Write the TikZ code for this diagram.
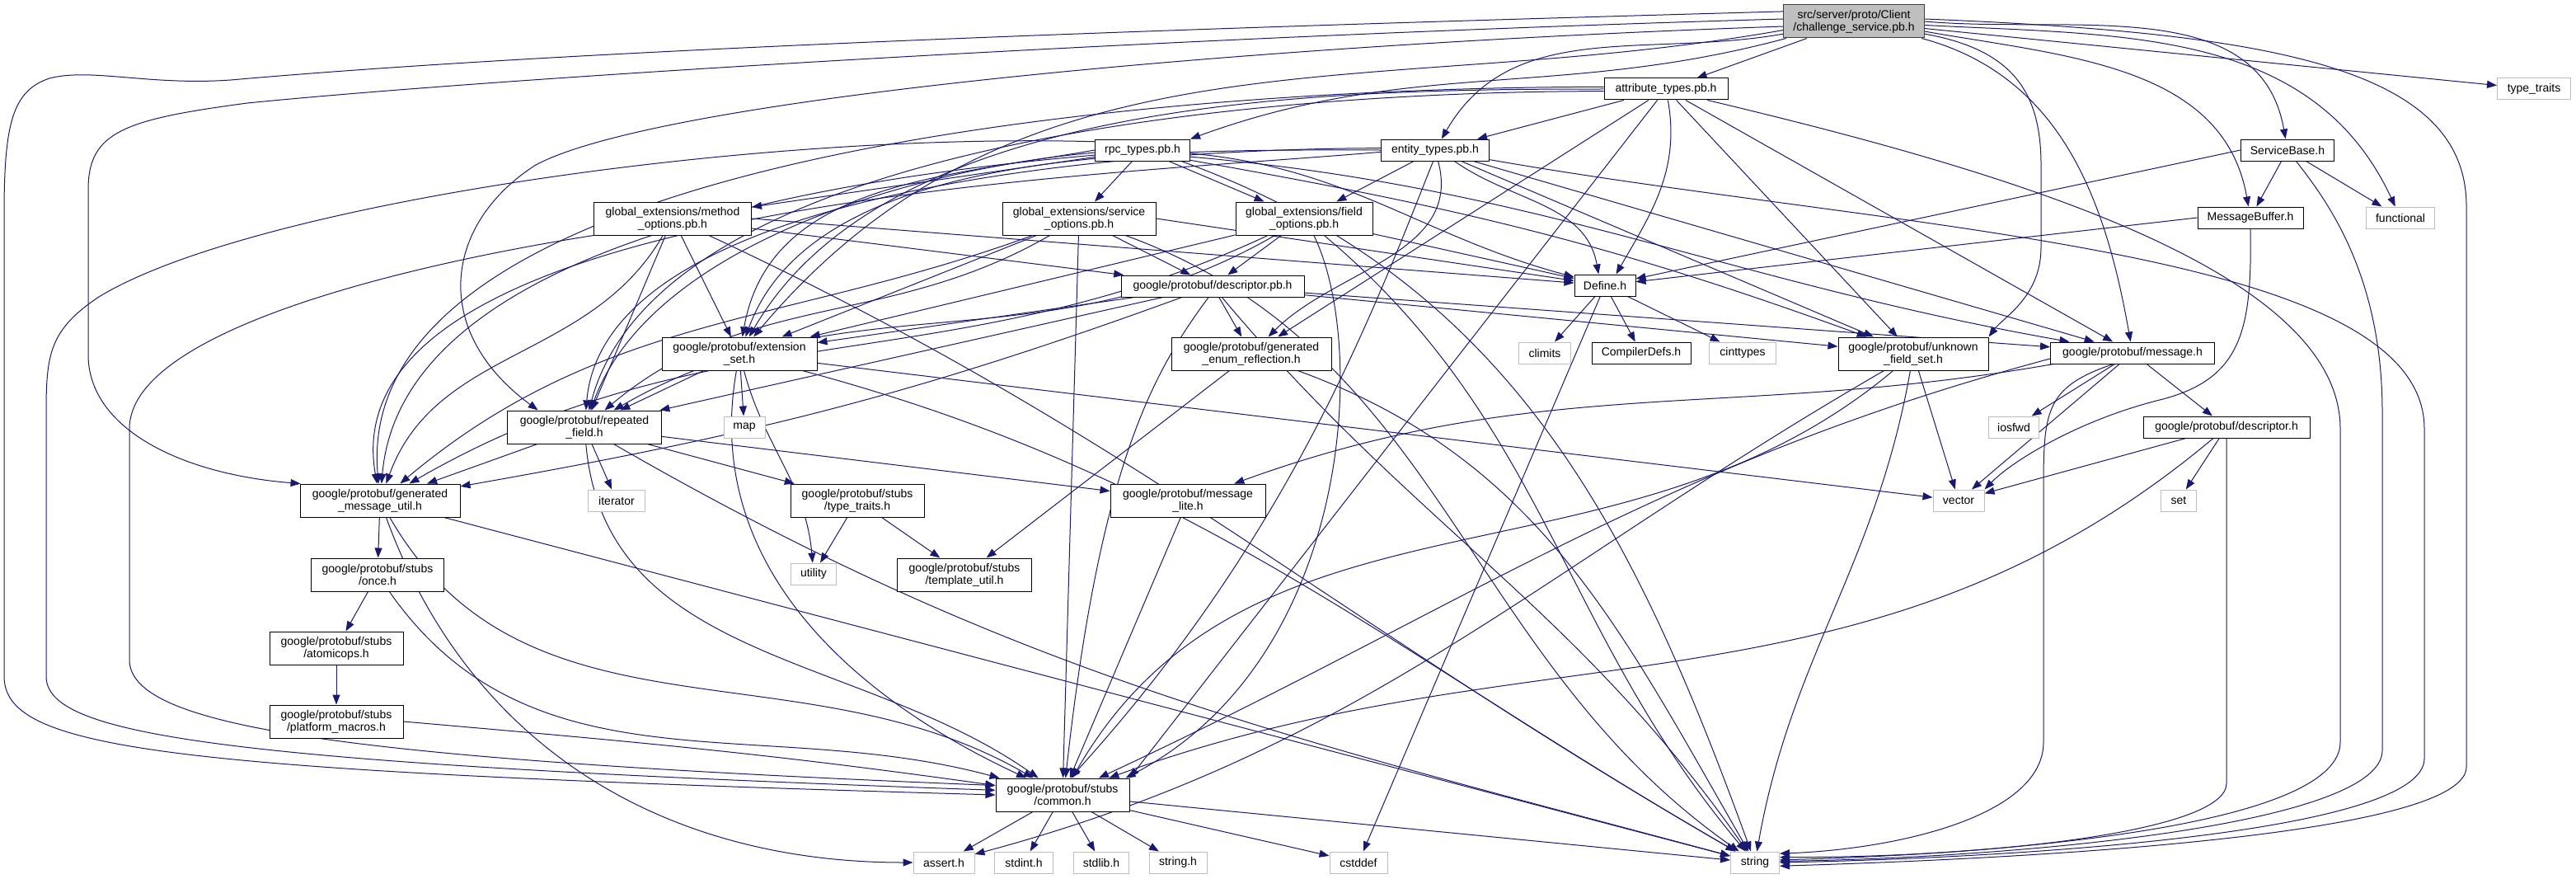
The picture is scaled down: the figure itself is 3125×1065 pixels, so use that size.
\documentclass[tikz,border=0pt]{standalone}
\usepackage{fontspec}
\setmainfont{Liberation Sans}
\usetikzlibrary{arrows.meta}
\pgfdeclarelayer{background}
\pgfsetlayers{background,main}
\definecolor{edgeblue}{HTML}{191970}
\definecolor{sysgray}{HTML}{BFBFBF}
\tikzset{
  hdr/.style={draw=black, line width=0.5pt, fill=white, align=center,
    font=\fontsize{7}{7.5}\selectfont, inner sep=1pt, minimum height=13pt},
  two/.style={minimum height=20pt},
  sys/.style={hdr, draw=sysgray},
  wd/.style={minimum width=#1*0.5pt},
  dep/.style={draw=edgeblue, line width=0.5pt, -{Triangle[length=6pt,width=4.5pt]}},
}
\begin{document}
\begin{tikzpicture}[x=0.5pt, y=-0.5pt]
  \useasboundingbox (0,0) rectangle (3125,1065);
  % headers
  \node[hdr, wd=171, two, fill=sysgray, draw=black!75] (root) at (2249,26) {src/server/proto/Client\\/challenge\_service.pb.h};
  \node[hdr, wd=150] (attr) at (2021,108) {attribute\_types.pb.h};
  \node[hdr, wd=131] (entity) at (1741,182) {entity\_types.pb.h};
  \node[hdr, wd=115] (rpc) at (1386,182) {rpc\_types.pb.h};
  \node[hdr, wd=191, two] (methopt) at (816,265) {global\_extensions/method\\\_options.pb.h};
  \node[hdr, wd=186, two] (servopt) at (1309,265) {global\_extensions/service\\\_options.pb.h};
  \node[hdr, wd=166, two] (fieldopt) at (1582,265) {global\_extensions/field\\\_options.pb.h};
  \node[hdr, wd=222] (descpb) at (1471,347) {google/protobuf/descriptor.pb.h};
  \node[hdr, wd=74] (define) at (1947,346) {Define.h};
  \node[hdr, wd=113] (svcbase) at (2775,182) {ServiceBase.h};
  \node[hdr, wd=128] (msgbuf) at (2730,264) {MessageBuffer.h};
  \node[sys, wd=83] (functional) at (2912,264) {functional};
  \node[sys, wd=89] (typetraits) at (3074,108) {type\_traits};
  \node[hdr, wd=188, two] (extset) at (897,429) {google/protobuf/extension\\\_set.h};
  \node[sys, wd=50] (map) at (903,518) {map};
  \node[hdr, wd=194, two] (genenum) at (1518,429) {google/protobuf/generated\\\_enum\_reflection.h};
  \node[sys, wd=63] (climits) at (1874,428) {climits};
  \node[hdr, wd=120] (compdefs) at (1991,428) {CompilerDefs.h};
  \node[sys, wd=81] (cinttypes) at (2114,428) {cinttypes};
  \node[hdr, wd=182, two] (unkfield) at (2321,429) {google/protobuf/unknown\\\_field\_set.h};
  \node[hdr, wd=199] (message) at (2587,428) {google/protobuf/message.h};
  \node[sys, wd=61] (iosfwd) at (2443,518) {iosfwd};
  \node[hdr, wd=202] (descr) at (2701,518) {google/protobuf/descriptor.h};
  \node[sys, wd=43] (set) at (2643,607) {set};
  \node[sys, wd=62] (vector) at (2376,607) {vector};
  \node[hdr, wd=194, two] (genmsg) at (461,607) {google/protobuf/generated\\\_message\_util.h};
  \node[hdr, wd=187, two] (repfield) at (709,518) {google/protobuf/repeated\\\_field.h};
  \node[sys, wd=69] (iterator) at (748,607) {iterator};
  \node[hdr, wd=162, two] (stubtraits) at (1040,607) {google/protobuf/stubs\\/type\_traits.h};
  \node[sys, wd=55] (utility) at (987,696) {utility};
  \node[hdr, wd=163, two] (tplutil) at (1170,697) {google/protobuf/stubs\\/template\_util.h};
  \node[hdr, wd=188, two] (msglite) at (1441,607) {google/protobuf/message\\\_lite.h};
  \node[hdr, wd=161, two] (once) at (458,697) {google/protobuf/stubs\\/once.h};
  \node[hdr, wd=162, two] (atomic) at (408,786) {google/protobuf/stubs\\/atomicops.h};
  \node[hdr, wd=162, two] (platform) at (408,875) {google/protobuf/stubs\\/platform\_macros.h};
  \node[hdr, wd=162, two] (common) at (1289,964) {google/protobuf/stubs\\/common.h};
  \node[sys, wd=74] (asserth) at (1145,1046) {assert.h};
  \node[sys, wd=71] (stdint) at (1242,1046) {stdint.h};
  \node[sys, wd=67] (stdlib) at (1336,1046) {stdlib.h};
  \node[sys, wd=70] (stringh) at (1429,1046) {string.h};
  \node[sys, wd=70] (cstddef) at (1648,1046) {cstddef};
  \node[sys, wd=59] (string) at (2129,1046) {string};

  \begin{pgfonlayer}{background}
  \fill[white] (0,0) rectangle (3125,1065);
  % root
  \draw[dep] (root) -- (attr);
  \draw[dep] (root.190) to[out=190,in=60] (entity);
  \draw[dep] (root.194) to[out=195,in=20] (rpc.north east);
  \draw[dep] (root.east) to[out=-5,in=100] (svcbase);
  \draw[dep] (root.-8) to[out=-10,in=100] (msgbuf);
  \draw[dep] (root.-3) to[out=-3,in=115] (functional);
  \draw[dep] (root) -- (typetraits);
  \draw[dep] (root.-14) to[out=-15,in=100] (message);
  \draw[dep] (root.-10) .. controls (2440,60) and (2476,110) .. (2476,200) -- (2476,300) .. controls (2476,360) and (2430,385) .. (unkfield.north east);
  \draw[dep] (root.2) .. controls (2750,40) and (2992,80) .. (2992,250) -- (2992,930) .. controls (2992,1010) and (2500,1040) .. (string.-8);
  \draw[dep] (root.172) .. controls (1400,35) and (700,60) .. (280,97) .. controls (180,104) and (110,82) .. (60,95) .. controls (15,110) and (5,150) .. (5,260) -- (5,820) .. controls (5,910) and (200,935) .. (common.180);
  \draw[dep] (root.178) .. controls (1400,45) and (600,95) .. (300,125) .. controls (150,145) and (107,160) .. (107,230) -- (107,430) .. controls (107,520) and (220,575) .. (genmsg.168);
  \draw[dep] (root.184) .. controls (1500,55) and (800,120) .. (650,200) .. controls (540,270) and (520,400) .. (repfield.160);
  \draw[dep] (root.187) to[out=190,in=50] (extset);
  % attribute_types.pb.h
  \draw[dep] (attr) -- (entity);
  \draw[dep] (attr.-80) to[out=-80,in=60] (define.45);
  \draw[dep] (attr) -- (message);
  \draw[dep] (attr) -- (unkfield);
  \draw[dep] (attr) -- (common.north east);
  \draw[dep] (attr) -- (genenum);
  \draw[dep] (attr.-15) .. controls (2400,200) and (2839,320) .. (2839,520) -- (2839,900) .. controls (2839,1000) and (2450,1035) .. (string.6);
  \draw[dep] (attr.west) to[out=180,in=60,looseness=0.8] (extset);
  \draw[dep] (attr.182) to[out=180,in=75,looseness=0.7] (repfield);
  \draw[dep] (attr.178) to[out=180,in=95,looseness=0.7] (genmsg);
  % entity_types.pb.h
  \draw[dep] (entity) -- (fieldopt);
  \draw[dep] (entity.-30) to[out=-35,in=100] (define.120);
  \draw[dep] (entity.-100) .. controls (1665,380) and (1565,650) .. (common.65);
  \draw[dep] (entity) -- (message);
  \draw[dep] (entity) -- (unkfield);
  \draw[dep] (entity) to[out=-75,in=45] (genenum);
  \draw[dep] (entity.-10) .. controls (2300,280) and (2941,300) .. (2941,520) -- (2941,920) .. controls (2941,1010) and (2450,1040) .. (string.0);
  \draw[dep] (entity.west) to[out=180,in=70,looseness=0.8] (extset);
  \draw[dep] (entity.178) to[out=180,in=85,looseness=0.7] (repfield);
  \draw[dep] (entity.182) to[out=185,in=100,looseness=0.7] (genmsg);
  % rpc_types.pb.h
  \draw[dep] (rpc) -- (methopt);
  \draw[dep] (rpc) -- (servopt);
  \draw[dep] (rpc) -- (fieldopt);
  \draw[dep] (rpc.-4) to[out=-5,in=165] (define);
  \draw[dep] (rpc.-8) to[out=-5,in=170] (message);
  \draw[dep] (rpc.-12) to[out=-10,in=160] (unkfield);
  \draw[dep] (rpc.-16) to[out=-20,in=110] (string);
  \draw[dep] (rpc.west) to[out=190,in=80] (extset);
  \draw[dep] (rpc.183) to[out=185,in=70,looseness=0.8] (repfield);
  \draw[dep] (rpc.186) to[out=185,in=85,looseness=0.8] (genmsg);
  \draw[dep] (rpc.170) .. controls (900,160) and (300,250) .. (120,360) .. controls (60,400) and (56,430) .. (56,500) -- (56,820) .. controls (56,890) and (250,925) .. (common.176);
  % global_extensions
  \draw[dep] (methopt.south west) .. controls (500,320) and (157,400) .. (157,520) -- (157,800) .. controls (157,880) and (400,920) .. (common.172);
  \draw[dep] (methopt) to[out=-120,in=70] (genmsg);
  \draw[dep] (methopt) -- (repfield);
  \draw[dep] (methopt) -- (extset);
  \draw[dep] (methopt) -- (descpb);
  \draw[dep] (methopt.east) -- (define);
  \draw[dep] (methopt) to[out=-25,in=150] (string);
  \draw[dep] (servopt) -- (descpb);
  \draw[dep] (servopt) -- (extset);
  \draw[dep] (servopt) to[out=-150,in=40] (repfield);
  \draw[dep] (servopt) to[out=-160,in=40] (genmsg);
  \draw[dep] (servopt) -- (common);
  \draw[dep] (servopt.east) -- (define);
  \draw[dep] (servopt) to[out=-20,in=145] (string);
  \draw[dep] (fieldopt) -- (descpb);
  \draw[dep] (fieldopt) -- (extset);
  \draw[dep] (fieldopt) to[out=-150,in=30] (repfield);
  \draw[dep] (fieldopt) to[out=-155,in=30] (genmsg);
  \draw[dep] (fieldopt.-60) .. controls (1660,420) and (1640,800) .. (common.15);
  \draw[dep] (fieldopt) -- (define);
  \draw[dep] (fieldopt) to[out=-40,in=130] (string);
  % descriptor.pb.h
  \draw[dep] (descpb) -- (genenum);
  \draw[dep] (descpb) -- (extset);
  \draw[dep] (descpb) -- (repfield);
  \draw[dep] (descpb) to[out=-160,in=10] (genmsg);
  \draw[dep] (descpb.-110) .. controls (1400,450) and (1335,560) .. (common.80);
  \draw[dep] (descpb) -- (message);
  \draw[dep] (descpb) -- (unkfield);
  \draw[dep] (descpb) to[out=-50,in=125] (string);
  % protobuf internals
  \draw[dep] (genmsg) -- (once);
  \draw[dep] (genmsg) to[out=-60,in=150] (common);
  \draw[dep] (genmsg) -- (string);
  \draw[dep] (genmsg) to[out=-70,in=180] (asserth);
  \draw[dep] (once) -- (atomic);
  \draw[dep] (once) to[out=-55,in=165] (common);
  \draw[dep] (atomic) -- (platform);
  \draw[dep] (platform.east) to[out=-5,in=172] (common);
  \draw[dep] (repfield) -- (genmsg);
  \draw[dep] (repfield) -- (iterator);
  \draw[dep] (repfield) to[out=-85,in=145] (common);
  \draw[dep] (repfield) to[out=-30,in=165] (string);
  \draw[dep] (repfield) -- (stubtraits);
  \draw[dep] (repfield) -- (msglite);
  \draw[dep] (extset) -- (repfield);
  \draw[dep] (extset) -- (map);
  \draw[dep] (extset) to[out=-75,in=95] (utility);
  \draw[dep] (extset.-100) to[out=-100,in=155] (common);
  \draw[dep] (extset) -- (vector);
  \draw[dep] (extset) to[out=-15,in=150] (string);
  \draw[dep] (stubtraits) -- (utility);
  \draw[dep] (stubtraits) -- (tplutil);
  \draw[dep] (genenum) -- (tplutil);
  \draw[dep] (genenum) to[out=-20,in=120] (string);
  \draw[dep] (msglite) -- (common);
  \draw[dep] (message) -- (iosfwd);
  \draw[dep] (message) -- (descr);
  \draw[dep] (message.-172) to[out=-170,in=20] (msglite);
  \draw[dep] (message.-176) to[out=-165,in=25] (common);
  \draw[dep] (message) -- (vector);
  \draw[dep] (message.-150) .. controls (2479,470) and (2479,500) .. (2479,600) -- (2479,900) .. controls (2479,990) and (2300,1030) .. (string.20);
  \draw[dep] (descr) -- (vector);
  \draw[dep] (descr) -- (set);
  \draw[dep] (descr) to[out=-140,in=20] (common);
  \draw[dep] (descr.-90) -- (2701,950) .. controls (2701,1010) and (2400,1040) .. (string.12);
  \draw[dep] (unkfield) to[out=-150,in=15] (asserth);
  \draw[dep] (unkfield) to[out=-140,in=60] (common);
  \draw[dep] (unkfield) to[out=-100,in=80] (string);
  \draw[dep] (unkfield) -- (vector);
  % Define.h and service headers
  \draw[dep] (define) -- (climits);
  \draw[dep] (define) -- (compdefs);
  \draw[dep] (define) -- (cinttypes);
  \draw[dep] (define) -- (cstddef);
  \draw[dep] (svcbase) -- (msgbuf);
  \draw[dep] (svcbase) -- (functional);
  \draw[dep] (svcbase.west) -- (define);
  \draw[dep] (svcbase) .. controls (2820,240) and (2890,330) .. (2890,500) -- (2890,910) .. controls (2890,1000) and (2450,1040) .. (string.3);
  \draw[dep] (msgbuf.west) -- (define);
  \draw[dep] (msgbuf.south) .. controls (2732,400) and (2720,460) .. (2620,485) .. controls (2520,510) and (2440,560) .. (vector.north east);
  % common.h
  \draw[dep] (common) -- (asserth);
  \draw[dep] (common) -- (stdint);
  \draw[dep] (common) -- (stdlib);
  \draw[dep] (common) -- (stringh);
  \draw[dep] (common) -- (cstddef);
  \draw[dep] (common) -- (string);
  \end{pgfonlayer}
\end{tikzpicture}
\end{document}
